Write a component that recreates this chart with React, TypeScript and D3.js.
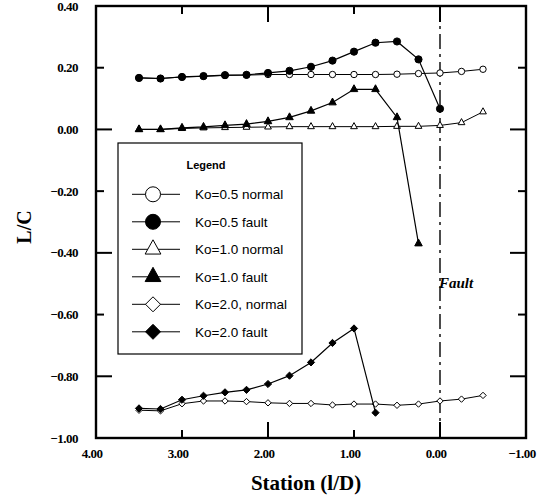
import React from "react";
import * as d3 from "d3";

// Station positions (l/D) shared by all series
const stations = [3.5, 3.25, 3.0, 2.75, 2.5, 2.25, 2.0, 1.75, 1.5, 1.25, 1.0, 0.75, 0.5, 0.25, 0.0, -0.25, -0.5];

// L/C values per series
const ko05Normal = [0.167, 0.165, 0.170, 0.172, 0.175, 0.176, 0.178, 0.178, 0.178, 0.178, 0.178, 0.178, 0.179, 0.181, 0.183, 0.188, 0.195];
const ko05Fault = [0.167, 0.165, 0.170, 0.173, 0.176, 0.177, 0.183, 0.190, 0.203, 0.223, 0.252, 0.281, 0.285, 0.227, 0.067];
const ko10Normal = [0.0, 0.0, 0.003, 0.005, 0.006, 0.007, 0.008, 0.009, 0.009, 0.009, 0.009, 0.009, 0.010, 0.010, 0.013, 0.022, 0.057];
const ko10Fault = [0.0, 0.0, 0.005, 0.008, 0.013, 0.017, 0.026, 0.039, 0.060, 0.087, 0.130, 0.130, 0.039, -0.370];
const ko20Normal = [-0.910, -0.912, -0.889, -0.880, -0.880, -0.882, -0.886, -0.888, -0.888, -0.893, -0.890, -0.890, -0.894, -0.890, -0.880, -0.874, -0.862];
const ko20Fault = [-0.904, -0.906, -0.876, -0.863, -0.852, -0.844, -0.825, -0.798, -0.755, -0.692, -0.645, -0.918];

const legendLabels = ["Ko=0.5 normal", "Ko=0.5 fault", "Ko=1.0 normal", "Ko=1.0 fault", "Ko=2.0, normal", "Ko=2.0 fault"];

// Axis ticks
const xTicks = [4, 3, 2, 1, 0, -1];
const yTicks = [0.4, 0.2, 0.0, -0.2, -0.4, -0.6, -0.8, -1.0];
const faultStation = 0.0;

type Shape = "circle" | "triangle" | "diamond";

const series: { values: number[]; shape: Shape; filled: boolean }[] = [
  { values: ko05Normal, shape: "circle", filled: false },
  { values: ko05Fault, shape: "circle", filled: true },
  { values: ko10Normal, shape: "triangle", filled: false },
  { values: ko10Fault, shape: "triangle", filled: true },
  { values: ko20Normal, shape: "diamond", filled: false },
  { values: ko20Fault, shape: "diamond", filled: true },
];

const W = 540;
const H = 497;
const left = 96, right = 526, top = 6, bottom = 438;

function markerPath(shape: Shape, r: number): string {
  if (shape === "circle") return d3.symbol(d3.symbolCircle, Math.PI * r * r)()!;
  if (shape === "triangle") {
    const h = r * 1.9;
    const w = r * 2.1;
    return `M0,${-h * 2 / 3}L${w / 2},${h / 3}L${-w / 2},${h / 3}Z`;
  }
  return `M0,${-r}L${r},0L0,${r}L${-r},0Z`;
}

const serif = "'Liberation Serif', 'DejaVu Serif', serif";
const sans = "'Liberation Sans', Arial, sans-serif";

export default function App() {
  const x = d3.scaleLinear().domain([4, -1]).range([left, right]);
  const y = d3.scaleLinear().domain([0.4, -1.0]).range([top, bottom]);
  const line = d3.line<[number, number]>().x((d) => x(d[0])).y((d) => y(d[1]));

  const fmt = d3.format(".2f");
  const isMajorY = (v: number) => Math.abs(Math.round(v * 10) % 4) === 0;
  const isMajorX = (v: number) => Math.round(v) % 2 === 0;

  // legend geometry
  const lg = { x: 118, y: 143, w: 184, h: 211 };
  const rowY = (i: number) => 194.3 + i * 27.5;

  return (
    <svg width={W} height={H} style={{ position: "absolute", left: 0, top: 0, background: "#fff" }}>
      <rect x={0} y={0} width={W} height={H} fill="#fff" />

      {/* ticks inside the frame */}
      {yTicks.map((v) => {
        const len = isMajorY(v) ? 16 : 8;
        return (
          <g key={"yt" + v}>
            <line x1={left} x2={left + len} y1={y(v)} y2={y(v)} stroke="#000" strokeWidth={2} />
            <line x1={right} x2={right - len} y1={y(v)} y2={y(v)} stroke="#000" strokeWidth={2} />
            <text x={78} y={y(v)} dy="0.35em" textAnchor="end" fontFamily={serif} fontWeight="bold" fontSize={13} letterSpacing={-0.5}>
              {fmt(v)}
            </text>
          </g>
        );
      })}
      {xTicks.map((v) => {
        const len = isMajorX(v) ? 16 : 8;
        return (
          <g key={"xt" + v}>
            <line x1={x(v)} x2={x(v)} y1={bottom} y2={bottom - len} stroke="#000" strokeWidth={2} />
            <line x1={x(v)} x2={x(v)} y1={top} y2={top + len} stroke="#000" strokeWidth={2} />
            <text x={x(v) - 4} y={458} textAnchor="middle" fontFamily={serif} fontWeight="bold" fontSize={13} letterSpacing={-0.5}>
              {fmt(v)}
            </text>
          </g>
        );
      })}

      {/* fault location */}
      <line x1={x(faultStation)} x2={x(faultStation)} y1={top} y2={bottom} stroke="#000" strokeWidth={1.4} strokeDasharray="15,5,3,5" />
      <text x={x(faultStation) - 1} y={288} fontFamily={serif} fontWeight="bold" fontStyle="italic" fontSize={15}>
        Fault
      </text>

      {/* series */}
      {series.map((s, i) => {
        const pts = s.values.map((v, j) => [stations[j], v] as [number, number]);
        return (
          <g key={"s" + i}>
            <path d={line(pts)!} fill="none" stroke="#000" strokeWidth={s.filled ? 1.2 : 1} />
            {pts.map((p, j) => (
              <path
                key={j}
                d={markerPath(s.shape, s.filled ? 3.6 : 3.2)}
                transform={`translate(${x(p[0])},${y(p[1])})`}
                fill={s.filled ? "#000" : "#fff"}
                stroke="#000"
                strokeWidth={1}
              />
            ))}
          </g>
        );
      })}

      {/* frame */}
      <rect x={left} y={top} width={right - left} height={bottom - top} fill="none" stroke="#000" strokeWidth={2.4} />

      {/* legend */}
      <rect x={lg.x} y={lg.y} width={lg.w} height={lg.h} fill="#fff" stroke="#000" strokeWidth={1.2} />
      <text x={206} y={169} textAnchor="middle" fontFamily={sans} fontWeight="bold" fontSize={11}>
        Legend
      </text>
      {series.map((s, i) => (
        <g key={"lg" + i}>
          <line x1={132} x2={180} y1={rowY(i)} y2={rowY(i)} stroke="#000" strokeWidth={1} />
          <path
            d={markerPath(s.shape, 7.5)}
            transform={`translate(153,${rowY(i)})`}
            fill={s.filled ? "#000" : "#fff"}
            stroke="#000"
            strokeWidth={1}
          />
          <text x={195} y={rowY(i)} dy="0.35em" fontFamily={sans} fontSize={13.5}>
            {legendLabels[i]}
          </text>
        </g>
      ))}

      {/* axis titles */}
      <text x={306} y={490} textAnchor="middle" fontFamily={serif} fontWeight="bold" fontSize={21}>
        Station (l/D)
      </text>
      <text transform="translate(31,227) rotate(-90)" textAnchor="middle" fontFamily={serif} fontWeight="bold" fontSize={20}>
        L/C
      </text>
    </svg>
  );
}
